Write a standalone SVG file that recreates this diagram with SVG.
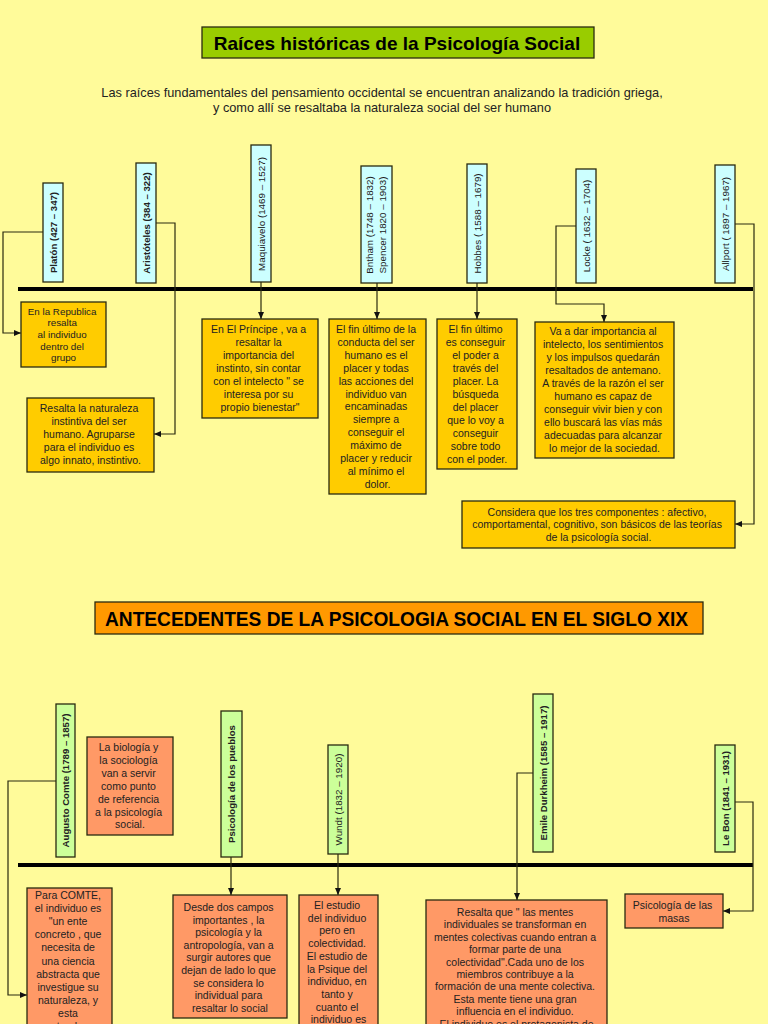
<svg xmlns="http://www.w3.org/2000/svg" width="768" height="1024" viewBox="0 0 768 1024">
<style>
text{font-family:"Liberation Sans",Arial,sans-serif;fill:#222;}
.box{stroke:#2a2a10;stroke-width:1.3;}
.gold{fill:#FFCC00;}
.sal{fill:#FF9966;}
.cyan{fill:#CCFFFF;}
.grn{fill:#CCFF99;}
.t{font-size:10.5px;text-anchor:middle;}
.v{font-size:9.8px;text-anchor:middle;}
.vb{font-size:9.6px;font-weight:bold;text-anchor:middle;}
.con{fill:none;stroke:#2a2a10;stroke-width:1.2;}
.tl{stroke:#000;stroke-width:4;}
</style>
<defs>
<marker id="arr" markerWidth="7" markerHeight="7" refX="7" refY="3.5" orient="auto" markerUnits="userSpaceOnUse">
<path d="M0,0.5 L7,3.5 L0,6.5 z" fill="#111"/>
</marker>
</defs>
<rect x="0" y="0" width="768" height="1024" fill="#FFFB9A"/>

<g id="title1">
<rect class="box" x="202" y="27" width="392" height="31" fill="#99CC00"/>
<text x="397" y="49.5" style="font-size:19px;font-weight:bold;text-anchor:middle;fill:#000">Raíces históricas de la Psicología Social</text>
</g>
<g id="subtitle">
<text x="382" y="96.5" style="font-size:12.75px;text-anchor:middle">Las raíces fundamentales del pensamiento occidental se encuentran analizando la tradición griega,</text>
<text x="382" y="111.5" style="font-size:12.75px;text-anchor:middle">y como allí se resaltaba la naturaleza social del ser humano</text>
</g>

<g id="connectors">
<line class="tl" x1="18" y1="289" x2="753" y2="289"/>
<line class="tl" x1="18" y1="865" x2="753" y2="865"/>
<path class="con" d="M43,232 H3 V333 H21" marker-end="url(#arr)"/>
<path class="con" d="M156,223 H175 V434 H154" marker-end="url(#arr)"/>
<path class="con" d="M261,282 V319" marker-end="url(#arr)"/>
<path class="con" d="M377,283 V319" marker-end="url(#arr)"/>
<path class="con" d="M477,283 V319" marker-end="url(#arr)"/>
<path class="con" d="M576,226 H556 V304 H604 V322" marker-end="url(#arr)"/>
<path class="con" d="M735,224 H754 V524 H735" marker-end="url(#arr)"/>
<path class="con" d="M56,781 H8 V995 H27" marker-end="url(#arr)"/>
<path class="con" d="M231,857 V895" marker-end="url(#arr)"/>
<path class="con" d="M338,854 V895" marker-end="url(#arr)"/>
<path class="con" d="M533,773 H517 V900" marker-end="url(#arr)"/>
<path class="con" d="M735,802 H753 V911 H723" marker-end="url(#arr)"/>
</g>

<g id="platon">
<rect class="box cyan" x="43" y="183" width="20" height="99"/>
<text class="vb" transform="translate(56.5,232.5) rotate(-90)">Platón (427 – 347)</text>
</g>
<g id="aristoteles">
<rect class="box cyan" x="136" y="163" width="20" height="120"/>
<text class="vb" transform="translate(149.5,223) rotate(-90)">Aristóteles (384 – 322)</text>
</g>
<g id="maquiavelo">
<rect class="box cyan" x="251" y="145" width="20" height="137"/>
<text class="v" transform="translate(264.5,214) rotate(-90)">Maquiavelo  (1469 – 1527)</text>
</g>
<g id="bntham">
<rect class="box cyan" x="361" y="166" width="31" height="117"/>
<text class="v" transform="translate(372.5,225) rotate(-90)">Bntham (1748 – 1832)</text>
<text class="v" transform="translate(385.5,225) rotate(-90)">Spencer 1820 – 1903)</text>
</g>
<g id="hobbes">
<rect class="box cyan" x="467" y="164" width="20" height="119"/>
<text class="v" transform="translate(480.5,223.5) rotate(-90)">Hobbes ( 1588 – 1679)</text>
</g>
<g id="locke">
<rect class="box cyan" x="576" y="169" width="20" height="114"/>
<text class="v" transform="translate(589.5,226) rotate(-90)">Locke  ( 1632 – 1704)</text>
</g>
<g id="allport">
<rect class="box cyan" x="715" y="165" width="20" height="118"/>
<text class="v" transform="translate(728.5,224) rotate(-90)">Allport  ( 1897 – 1967)</text>
</g>

<g id="republica">
<rect class="box gold" x="21" y="302" width="85" height="65"/>
<text style="font-size:9.8px;text-anchor:middle" x="63.5">
<tspan x="63.5" y="314.5">En la Republica</tspan>
<tspan x="63.5" y="326.2">resalta</tspan>
<tspan x="63.5" y="337.9">al individuo</tspan>
<tspan x="63.5" y="349.6">dentro del</tspan>
<tspan x="63.5" y="361.3">grupo</tspan>
</text>
</g>
<g id="naturaleza">
<rect class="box gold" x="27" y="398" width="127" height="74"/>
<text class="t">
<tspan x="90.5" y="412">Resalta la naturaleza</tspan>
<tspan x="90.5" y="425">instintiva del ser</tspan>
<tspan x="90.5" y="438">humano. Agruparse</tspan>
<tspan x="90.5" y="451">para el individuo es</tspan>
<tspan x="90.5" y="464">algo innato, instintivo.</tspan>
</text>
</g>
<g id="principe">
<rect class="box gold" x="202" y="319" width="116" height="99"/>
<text class="t">
<tspan x="260" y="333">En El Príncipe , va a</tspan>
<tspan x="260" y="346">resaltar la</tspan>
<tspan x="260" y="359">importancia del</tspan>
<tspan x="260" y="372">instinto, sin contar</tspan>
<tspan x="260" y="385">con el intelecto " se</tspan>
<tspan x="260" y="398">interesa por su</tspan>
<tspan x="260" y="411">propio bienestar"</tspan>
</text>
</g>
<g id="placer">
<rect class="box gold" x="329" y="319" width="97" height="175"/>
<text class="t">
<tspan x="377.5" y="333">El fin último de la</tspan>
<tspan x="377.5" y="345.9">conducta del ser</tspan>
<tspan x="377.5" y="358.8">humano es el</tspan>
<tspan x="377.5" y="371.7">placer y todas</tspan>
<tspan x="377.5" y="384.6">las acciones del</tspan>
<tspan x="377.5" y="397.5">individuo van</tspan>
<tspan x="377.5" y="410.4">encaminadas</tspan>
<tspan x="377.5" y="423.3">siempre a</tspan>
<tspan x="377.5" y="436.2">conseguir el</tspan>
<tspan x="377.5" y="449.1">máximo de</tspan>
<tspan x="377.5" y="462">placer y reducir</tspan>
<tspan x="377.5" y="474.9">al mínimo el</tspan>
<tspan x="377.5" y="487.8">dolor.</tspan>
</text>
</g>
<g id="poder">
<rect class="box gold" x="437" y="319" width="80" height="150"/>
<text class="t">
<tspan x="477" y="333">El fin último</tspan>
<tspan x="477" y="346">es conseguir</tspan>
<tspan x="477" y="359">el poder a</tspan>
<tspan x="477" y="372">través del</tspan>
<tspan x="477" y="385">placer. La</tspan>
<tspan x="477" y="398">búsqueda</tspan>
<tspan x="477" y="411">del placer</tspan>
<tspan x="477" y="424">que lo voy a</tspan>
<tspan x="477" y="437">conseguir</tspan>
<tspan x="477" y="450">sobre todo</tspan>
<tspan x="477" y="463">con el poder.</tspan>
</text>
</g>
<g id="intelecto">
<rect class="box gold" x="535" y="322" width="139" height="136"/>
<text class="t">
<tspan x="604.5" y="335">Va a dar importancia al</tspan>
<tspan x="604.5" y="348">intelecto, los sentimientos</tspan>
<tspan x="604.5" y="361">y los impulsos quedarán</tspan>
<tspan x="604.5" y="374">resaltados de antemano.</tspan>
<tspan x="604.5" y="387">A través de la razón el ser</tspan>
<tspan x="604.5" y="400">humano es capaz de</tspan>
<tspan x="604.5" y="413">conseguir vivir bien y con</tspan>
<tspan x="604.5" y="426">ello buscará las vías más</tspan>
<tspan x="604.5" y="439">adecuadas para alcanzar</tspan>
<tspan x="604.5" y="452">lo mejor de la sociedad.</tspan>
</text>
</g>
<g id="componentes">
<rect class="box gold" x="462" y="501" width="273" height="47"/>
<text class="t">
<tspan x="598.5" y="515.5">Considera que los tres componentes : afectivo,</tspan>
<tspan x="598.5" y="528">comportamental, cognitivo, son básicos de las teorías</tspan>
<tspan x="598.5" y="540.5">de la psicología social.</tspan>
</text>
</g>

<g id="title2">
<rect class="box" x="95" y="602" width="608" height="32" fill="#FF9900"/>
<text x="396.5" y="626" textLength="583" lengthAdjust="spacingAndGlyphs" style="font-size:21px;font-weight:bold;text-anchor:middle;fill:#000">ANTECEDENTES DE LA PSICOLOGIA SOCIAL EN EL SIGLO XIX</text>
</g>

<g id="comte">
<rect class="box grn" x="56" y="704" width="19" height="153"/>
<text class="vb" transform="translate(69,780.5) rotate(-90)">Augusto Comte (1789 – 1857)</text>
</g>
<g id="pueblos">
<rect class="box grn" x="221" y="711" width="21" height="146"/>
<text class="vb" transform="translate(235,784) rotate(-90)">Psicología de los pueblos</text>
</g>
<g id="wundt">
<rect class="box grn" x="328" y="745" width="20" height="109"/>
<text class="v" transform="translate(341.5,799.5) rotate(-90)">Wundt (1832 – 1920)</text>
</g>
<g id="durkheim">
<rect class="box grn" x="533" y="694" width="20" height="158"/>
<text class="vb" transform="translate(546.5,773) rotate(-90)">Emile Durkheim  (1585 – 1917)</text>
</g>
<g id="lebon">
<rect class="box grn" x="715" y="745" width="20" height="107"/>
<text class="vb" transform="translate(728.5,798.5) rotate(-90)">Le Bon (1841 – 1931)</text>
</g>

<g id="biologia">
<rect class="box sal" x="87" y="737" width="86" height="98"/>
<text class="t">
<tspan x="130" y="751">La biología y</tspan>
<tspan x="130" y="763.9">la sociología</tspan>
<tspan x="130" y="776.8">van a servir</tspan>
<tspan x="130" y="789.7">como punto</tspan>
<tspan x="130" y="802.6">de referencia</tspan>
<tspan x="130" y="815.5">a la psicología</tspan>
<tspan x="130" y="828.4">social.</tspan>
</text>
</g>
<g id="paracomte">
<rect class="box sal" x="27" y="888" width="85" height="150"/>
<text class="t">
<tspan x="69.5" y="899">Para COMTE,</tspan>
<tspan x="69.5" y="912.1">el individuo es</tspan>
<tspan x="69.5" y="925.2">"un ente</tspan>
<tspan x="69.5" y="938.3">concreto , que</tspan>
<tspan x="69.5" y="951.4">necesita de</tspan>
<tspan x="69.5" y="964.5">una ciencia</tspan>
<tspan x="69.5" y="977.6">abstracta que</tspan>
<tspan x="69.5" y="990.7">investigue su</tspan>
<tspan x="69.5" y="1003.8">naturaleza, y</tspan>
<tspan x="69.5" y="1016.9">esta</tspan>
<tspan x="69.5" y="1030">naturaleza</tspan>
</text>
</g>
<g id="desde">
<rect class="box sal" x="173" y="895" width="114" height="123"/>
<text class="t">
<tspan x="230" y="911">Desde dos campos</tspan>
<tspan x="230" y="923.6">importantes , la</tspan>
<tspan x="230" y="936.2">psicología y la</tspan>
<tspan x="230" y="948.8">antropología, van a</tspan>
<tspan x="230" y="961.4">surgir autores que</tspan>
<tspan x="230" y="974">dejan de lado lo que</tspan>
<tspan x="230" y="986.6">se considera lo</tspan>
<tspan x="230" y="999.2">individual para</tspan>
<tspan x="230" y="1011.8">resaltar lo social</tspan>
</text>
</g>
<g id="estudio">
<rect class="box sal" x="299" y="895" width="79" height="150"/>
<text class="t">
<tspan x="338.5" y="909">El estudio</tspan>
<tspan x="338.5" y="921.7">del individuo</tspan>
<tspan x="338.5" y="934.4">pero en</tspan>
<tspan x="338.5" y="947.1">colectividad.</tspan>
<tspan x="338.5" y="959.8">El estudio de</tspan>
<tspan x="338.5" y="972.5">la Psique del</tspan>
<tspan x="338.5" y="985.2">individuo, en</tspan>
<tspan x="338.5" y="997.9">tanto y</tspan>
<tspan x="338.5" y="1010.6">cuanto el</tspan>
<tspan x="338.5" y="1023.3">individuo es</tspan>
</text>
</g>
<g id="mentes">
<rect class="box sal" x="426" y="900" width="181" height="150"/>
<text class="t">
<tspan x="516.5" y="916">Resalta que " las mentes</tspan>
<tspan x="516.5" y="928.4">individuales se transforman en</tspan>
<tspan x="516.5" y="940.8">mentes colectivas cuando entran a</tspan>
<tspan x="516.5" y="953.2">formar parte de una</tspan>
<tspan x="516.5" y="965.6">colectividad".Cada uno de los</tspan>
<tspan x="516.5" y="978">miembros contribuye a la</tspan>
<tspan x="516.5" y="990.4">formación de una mente colectiva.</tspan>
<tspan x="516.5" y="1002.8">Esta mente tiene una gran</tspan>
<tspan x="516.5" y="1015.2">influencia en el individuo.</tspan>
<tspan x="516.5" y="1027.6">El individuo es el protagonista de</tspan>
</text>
</g>
<g id="masas">
<rect class="box sal" x="625" y="894" width="98" height="34"/>
<text class="t">
<tspan x="674" y="908.5">Psicología de las</tspan>
<tspan x="674" y="921.5">masas</tspan>
</text>
</g>
</svg>
